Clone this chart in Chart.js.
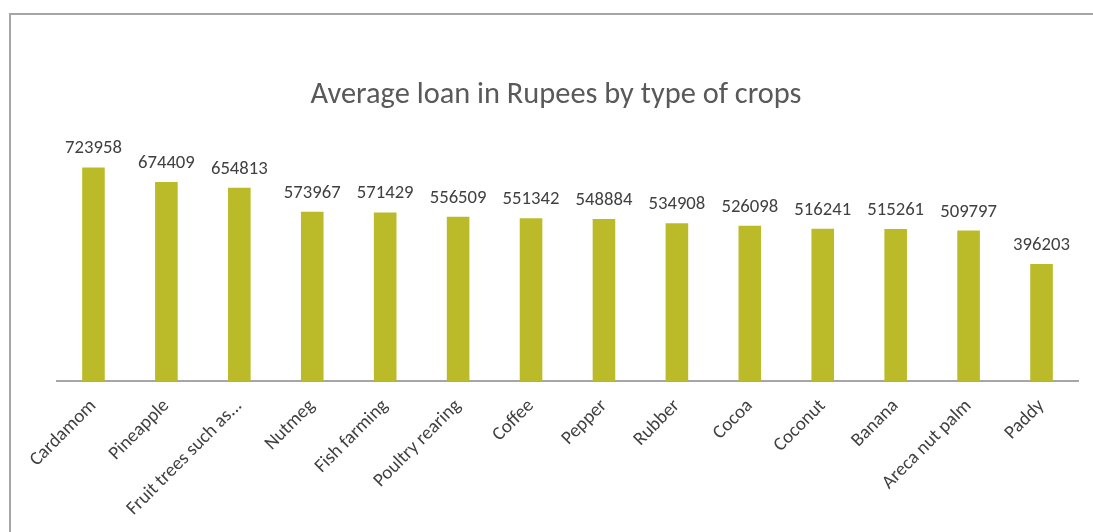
<!DOCTYPE html>
<html>
<head>
<meta charset="utf-8">
<script src="https://cdn.jsdelivr.net/npm/chart.js@4.4.1/dist/chart.umd.min.js"></script>
<style>
  html, body { margin: 0; padding: 0; background: #ffffff; overflow: hidden; }
  #wrap { position: relative; width: 1093px; height: 532px; }
  #frame { position: absolute; left: 9px; top: 13px; width: 2000px; height: 2000px;
           border: 2px solid #a6a6a6; box-sizing: border-box; pointer-events: none; }
  canvas { position: absolute; left: 0; top: 0; }
</style>
</head>
<body>
<div id="wrap">
  <canvas id="c" width="1093" height="532"></canvas>
  <div id="frame"></div>
</div>
<script>
const FONT = 'Carlito, Calibri, "Open Sans", sans-serif';

const titleText = 'Average loan in Rupees by type of crops';

const categories = [
  'Cardamom', 'Pineapple', 'Fruit trees such as...', 'Nutmeg', 'Fish farming',
  'Poultry rearing', 'Coffee', 'Pepper', 'Rubber', 'Cocoa',
  'Coconut', 'Banana', 'Areca nut palm', 'Paddy'
];

const averageLoan = [
  723958, 674409, 654813, 573967, 571429,
  556509, 551342, 548884, 534908, 526098,
  516241, 515261, 509797, 396203
];

const yMin = 0;
const yMax = 800000;

// Chart title, centred over the outer frame
const titlePlugin = {
  id: 'frameTitle',
  afterDraw(chart) {
    const ctx = chart.ctx;
    ctx.save();
    ctx.font = '30.4px ' + FONT;
    ctx.fillStyle = '#595959';
    ctx.textAlign = 'center';
    ctx.textBaseline = 'alphabetic';
    ctx.fillText(titleText, 556, 103);
    ctx.restore();
  }
};

// Value labels above each bar
const valueLabels = {
  id: 'valueLabels',
  afterDatasetsDraw(chart) {
    const ctx = chart.ctx;
    const meta = chart.getDatasetMeta(0);
    const data = chart.data.datasets[0].data;
    ctx.save();
    ctx.font = '18.7px ' + FONT;
    ctx.fillStyle = '#404040';
    ctx.textAlign = 'center';
    ctx.textBaseline = 'alphabetic';
    meta.data.forEach((bar, i) => {
      ctx.fillText(String(data[i]), bar.x, bar.y - 14);
    });
    ctx.restore();
  }
};

new Chart(document.getElementById('c'), {
  type: 'bar',
  data: {
    labels: categories,
    datasets: [{
      data: averageLoan,
      backgroundColor: '#bbbb2a',
      borderWidth: 0,
      categoryPercentage: 1,
      barPercentage: 0.31
    }]
  },
  options: {
    responsive: false,
    animation: false,
    devicePixelRatio: 1,
    layout: { padding: { left: 57, right: 15, top: 145, bottom: 0 } },
    plugins: {
      legend: { display: false },
      title: { display: false },
      tooltip: { enabled: false }
    },
    scales: {
      x: {
        grid: { display: false, drawTicks: false },
        border: { display: true, color: '#a6a6a6', width: 2 },
        ticks: {
          color: '#404040',
          font: { family: FONT, size: 19 },
          minRotation: 45,
          maxRotation: 45,
          autoSkip: false,
          padding: 14
        },
        afterFit(scale) {
          // fixed band for the slanted category names
          scale.height = 151;
        }
      },
      y: {
        display: false,
        min: yMin,
        max: yMax
      }
    }
  },
  plugins: [titlePlugin, valueLabels]
});
</script>
</body>
</html>
